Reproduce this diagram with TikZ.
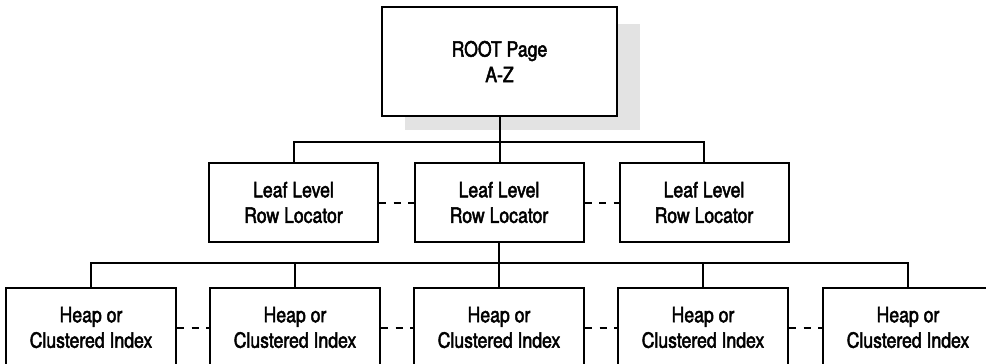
\documentclass[tikz,border=0pt]{standalone}
\usepackage{fontspec}
\newfontfamily\boxfont[FakeStretch=0.84, FakeBold=2.2]{TeX Gyre Heros}

\begin{document}
\begin{tikzpicture}[x=1pt, y=-1pt,
  box/.style={draw, line width=2pt, fill=white, align=center, inner sep=0pt,
    font=\boxfont\fontsize{21}{25.5}\selectfont},
  levelbox/.style={box, minimum width=169pt, minimum height=79pt},
  link/.style={line width=2pt},
  dashlink/.style={link, dash pattern=on 7pt off 7.5pt}]
  \clip (0,0) rectangle (986,364);
  % root page and its shadow
  \fill[black!11] (405,24) rectangle (640,130);
  \node[box, minimum width=235pt, minimum height=109pt] (root) at (499.5,61.5) {ROOT Page\\A-Z};

  % leaf level
  \node[levelbox] (leafL) at (293.5,202.5) {Leaf Level\\Row Locator};
  \node[levelbox] (leafM) at (499,202.5) {Leaf Level\\Row Locator};
  \node[levelbox] (leafR) at (704,202.5) {Leaf Level\\Row Locator};

  % data pages
  \foreach \i/\x in {1/91,2/295,3/499,4/703,5/908}
    \node[levelbox, minimum width=170pt] (heap\i) at (\x,327.5) {Heap or\\Clustered Index};

  \draw[link] (root.south) -- (root.south |- leafM.north);
  \draw[link] (leafL.north) -- ++(0,-20) -| (leafR.north);
  \draw[link] (leafM.south) -- (heap3.north);
  \draw[link] (heap1.north) -- ++(0,-24) -| (heap5.north);
  \draw[link] (heap2.north) -- ++(0,-24);
  \draw[link] (heap4.north) -- ++(0,-24);

  \draw[dashlink] (leafL.east) -- (leafM.west);
  \draw[dashlink] (leafM.east) -- (leafR.west);
  \foreach \a/\b in {1/2,2/3,3/4,4/5}
    \draw[dashlink] (heap\a.east) -- (heap\b.west);
\end{tikzpicture}
\end{document}
